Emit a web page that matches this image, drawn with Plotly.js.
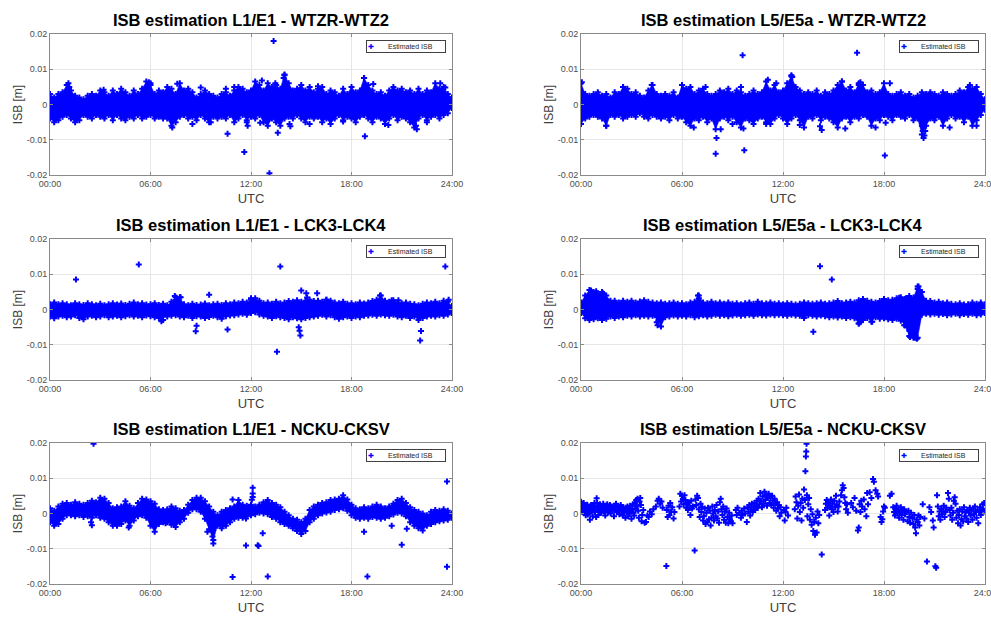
<!DOCTYPE html>
<html><head><meta charset="utf-8">
<script src="https://cdn.plot.ly/plotly-3.0.1.min.js"></script>
<style>html,body{margin:0;padding:0;background:#fff;overflow:hidden}#chart{width:991px;height:617px;}</style>
</head><body><div id="chart"></div>
<script>
// ---------- DATA (ISB values in millimetres, time in hours UTC) ----------
const hours = [0,0.25,0.5,0.75,1,1.25,1.5,1.75,2,2.25,2.5,2.75,3,3.25,3.5,3.75,4,4.25,4.5,4.75,5,5.25,5.5,5.75,6,6.25,6.5,6.75,7,7.25,7.5,7.75,8,8.25,8.5,8.75,9,9.25,9.5,9.75,10,10.25,10.5,10.75,11,11.25,11.5,11.75,12,12.25,12.5,12.75,13,13.25,13.5,13.75,14,14.25,14.5,14.75,15,15.25,15.5,15.75,16,16.25,16.5,16.75,17,17.25,17.5,17.75,18,18.25,18.5,18.75,19,19.25,19.5,19.75,20,20.25,20.5,20.75,21,21.25,21.5,21.75,22,22.25,22.5,22.75,23,23.25,23.5,23.75,24];
const xTickVals = [0,6,12,18,24];
const xTickText = ['00:00','06:00','12:00','18:00','24:00'];
const yTickVals = [-0.02,-0.01,0,0.01,0.02];
const yTickText = ['-0.02','-0.01','0','0.01','0.02'];
const panelTitles = [
  'ISB estimation L1/E1 - WTZR-WTZ2','ISB estimation L5/E5a - WTZR-WTZ2',
  'ISB estimation L1/E1 - LCK3-LCK4','ISB estimation L5/E5a - LCK3-LCK4',
  'ISB estimation L1/E1 - NCKU-CKSV','ISB estimation L5/E5a - NCKU-CKSV'];
const seriesName = 'Estimated ISB';

// Panel 1: L1/E1 WTZR-WTZ2 (upper / lower edge of the dense band, plus isolated points)
const wtzrL1Upper = [3,2,3,3.5, 5.5,4,2.5,2, 1.5,2.5,3,2.5, 4,3.5,2.5,4, 3,4.5,3.5,2.5, 4,3,4.5,6.5, 5.5,3,4,3.5, 5,4.5,3,6, 4,4.5,3.5,2, 3,4,3,2.5, 2,3,3.5,2.5, 4,5,4.5,3.5, 4,6.5,5.5,4, 6,5,5.5,4.5, 8.5,6,4,4.5, 5.5,4,5,3.5, 4.5,5,3,4, 3.5,2.5,4.5,3, 5,3.5,4,7.5, 5.5,4,3,3.5, 2.5,4,5,4, 4.5,3.5,4,3, 4.5,3,4,3.5, 6,4.5,5,3, 2];
const wtzrL1Lower = [-4,-5,-4.5,-3.5, -3,-4,-5,-4.5, -3,-3.5,-4,-3, -3.5,-4,-3,-4.5, -3,-4,-4.5,-3.5, -4,-3,-4,-3.5, -3,-4,-3.5,-4, -4,-6,-5,-3.5, -3,-4,-3.5,-4.5, -3,-4,-5,-3.5, -4,-3.5,-4,-3, -5,-4,-3,-4.5, -3.5,-4,-3,-5, -6,-4,-5,-6, -4,-3.5,-4,-3, -4,-5,-3.5,-4, -3.5,-5,-4,-5.5, -4,-3,-4.5,-3.5, -4,-5,-3.5,-3, -4,-5,-3.5,-4, -5.5,-4,-3,-4.5, -3.5,-4,-5,-6.5, -4,-3,-4.5,-3.5, -3,-4,-3,-2.5, -1];
const wtzrL1Points = [[13.35,18],[13.1,-19.5],[11.6,-13.5],[10.6,-8.3],[13.6,-8],[18.8,-9],[21.9,-7],[7.3,-6.5],[12.65,6.8],[14.0,8.3],[13.95,7.5],[13.45,6],[13.5,4.5],[18.75,7.5],[19.3,5.8],[11.8,-6],[11.75,-5],[12.55,-5.2],[14.3,-5.5],[14.35,-6.2],[17.5,-4.8],[1.1,6],[1.15,5],[5.9,6.3],[6.0,6],[7.6,5.9],[23.3,6],[23.6,4.8],[20.2,-5.8],[21.85,-6],[16.0,5.2],[11.0,5],[10.5,4.5],[9.0,4.8],[3.2,4.2],[8.5,-5.5],[9.6,-5],[15.5,-5.5],[22.5,-5]];

// Panel 2: L5/E5a WTZR-WTZ2
const wtzrL5Upper = [6,3,2.5,3, 3.5,2.5,3,2, 3.5,3,5,4.5, 3,3.5,2.5,2, 4,5.5,3,2.5, 3,2.5,3.5,2, 5.5,4.5,5,3, 4,4.5,3,2.5, 3,4,3.5,4.5, 3,4,3.5,2.5, 3,4,3,3.5, 6.5,4,5.5,3.5, 4,6,8,5, 4,3,3.5,3, 4,2.5,3.5,3, 4,5.5,6.5,4, 5,3.5,6,5.5, 3.5,4,3,3.5, 6,3,2.5,3, 3.5,2.5,3,2, 2.5,3.5,3,3.5, 3,2.5,3.5,3, 2.5,3,4,3.5, 5,4.5,5,3, 1.5];
const wtzrL5Lower = [-5.5,-4,-3.5,-3, -3.5,-4,-6,-3, -3.5,-3,-4,-3.5, -3,-3.5,-2.5,-3.5, -4,-3,-3.5,-4, -3.5,-4.5,-3,-4, -3.5,-5,-6,-4, -4.5,-3.5,-5,-4, -7,-4,-3.5,-4.5, -3.5,-5,-6.5,-4, -4.5,-5.5,-4,-3.5, -5,-5.5,-4,-3, -4,-5.5,-4,-3, -4.5,-6.5,-3.5,-4, -3,-4.5,-3.5,-4, -5,-6.5,-4,-3.5, -5,-3.5,-4,-3, -3.5,-6,-4,-4.5, -3,-3.5,-4.5,-3, -3.5,-4,-3,-4.5, -4,-8.5,-6,-4, -4.5,-3.5,-6,-4, -3,-4,-3.5,-5, -3.5,-6,-4.5,-3, -1.5];
const wtzrL5Points = [[9.6,14],[16.4,14.7],[8.05,-9.5],[8.0,-14],[8.3,-7],[9.7,-13],[18.05,-14.5],[12.5,8.3],[12.55,7.8],[11.1,7],[11.6,6],[1.5,-6],[6.7,-6.5],[14.3,-7.2],[20.35,-9.5],[20.4,-8.8],[20.3,-7.5],[21.9,-6.5],[23.5,-6],[17.5,-6.5],[15.7,-6.8],[18.35,6],[0.05,6.3],[16.6,6.3],[16.5,5.5],[15.5,6.5],[4.2,5.5],[2.5,5],[7.4,5],[9.0,-5.5],[9.65,-6.8],[11.0,-5.5],[13.0,-5.8],[18.1,-5.2],[23.1,5.5],[20.45,-7.5],[20.25,-6],[14.2,-6.2],[9.5,5]];

// Panel 3: L1/E1 LCK3-LCK4
const lckL1Upper = [1.5,2,1.5,1.8, 1.5,1.2,1.8,1.5, 1.3,1.8,1.5,1.2, 1.6,1.2,1.5,1.8, 1.4,1.7,1.3,1.6, 2,1.5,1.8,1.4, 1.5,1.8,1.3,1.6, 1.2,2.2,3.5,3.5, 1.5,1.2,1.6,1.3, 1.4,1.7,1.2,1.5, 1.6,1.3,1.8,1.5, 2,1.8,2.2,2, 2.8,3.2,2.5,1.8, 2,1.6,2.2,1.8, 2,2.4,2.2,2.6, 2.2,2.5,2.8,2.4, 2.5,2.2,2.8,2.5, 2,1.8,2.2,1.6, 1.8,1.5,2,1.7, 2,2.4,2.8,4, 2.5,2.2,2.6,2, 1.8,2,1.6,1.5, 1.2,1.6,2,1.8, 2.2,1.8,2.5,2.2, 1];
const lckL1Lower = [-2,-2.5,-2,-1.8, -2.2,-2,-1.6,-2.4, -2.8,-2,-1.8,-2.2, -2,-1.6,-2.2,-2, -1.8,-2.2,-1.9,-1.6, -2,-1.8,-2.2,-1.7, -1.9,-2.2,-2.4,-2, -2,-1.8,-1.6,-2, -2.2,-1.8,-2.4,-1.9, -2,-2.4,-2.1,-1.8, -2.2,-2.6,-1.9,-1.7, -1.6,-1.4,-1.2,-1.5, -1,-0.8,-1.4,-1.8, -2,-2.4,-1.9,-2.2, -2.4,-2.8,-2.2,-2.5, -2.8,-2.4,-2.2,-2, -1.8,-1.5,-2,-1.6, -2.2,-2.6,-2.2,-2, -2.4,-2,-2.2,-1.8, -1.7,-1.5,-1.8,-1.4, -1.6,-1.8,-1.5,-2, -2.2,-1.8,-2.4,-2, -3,-2.4,-2,-1.8, -2,-1.6,-1.8,-1.4, -1];
const lckL1Points = [[1.55,8.5],[5.3,12.8],[13.75,12.2],[23.6,12.2],[13.55,-12],[7.45,3.8],[7.8,3.5],[7.6,2.8],[9.5,4.2],[8.7,-6.2],[8.75,-4.6],[10.6,-5.7],[14.85,-5],[14.9,-6],[14.95,-7.4],[15.0,5.4],[15.3,4.6],[15.35,3.4],[15.95,4.6],[22.1,-8.8],[22.15,-6.1],[6.65,-3.3],[6.75,-3],[23.8,2.8],[19.7,4],[20.4,2.6],[20.8,2.6],[7.5,2.6],[12.0,3.2],[16.5,2.8]];

// Panel 4: L5/E5a LCK3-LCK4
const lckL5Upper = [2,4,5.5,5, 4.5,5,4,2.5, 2.5,2,2.5,2.2, 2.5,2,2.3,2.6, 2.2,2,1.8,2, 1.6,1.8,2,1.6, 1.8,1.5,2,2.2, 4,2,1.8,2.2, 1.8,2,1.6,2, 1.6,1.8,1.5,1.8, 2,1.6,2.2,1.8, 1.7,2,1.6,1.8, 1.5,1.8,1.6,1.4, 1.6,2,1.8,1.6, 1.8,2,1.6,1.8, 2,2.4,1.8,2, 2.2,2,2.6,3, 2.5,2.2,2,2.4, 3,2.6,2.8,3.2, 3.5,3,3.8,3.4, 6.5,5,2.5,2.4, 2,2.2,1.8,2, 1.6,1.5,1.8,1.4, 1.5,2,1.6,2, 1.5];
const lckL5Lower = [-1,-2.5,-3,-2.8, -2.5,-3,-2.6,-2, -2.4,-2,-2.2,-1.8, -2,-1.6,-2,-1.8, -2,-1.8,-2.2,-4.8, -2.2,-2,-1.7,-2, -1.8,-2,-1.6,-2.2, -1.9,-1.6,-2,-1.8, -1.5,-1.8,-1.6,-1.9, -1.7,-1.5,-1.8,-1.6, -1.5,-1.8,-1.4,-1.6, -1.7,-1.4,-1.6,-1.5, -1.6,-1.8,-1.5,-1.7, -1.8,-2.4,-1.6,-1.8, -2,-1.7,-1.9,-2.2, -2,-2.3,-2,-2.4, -2.2,-2.5,-4,-3, -2.4,-3.5,-2.2,-2.6, -2.5,-2.8,-3,-2.6, -3.2,-4.5,-7.5,-8, -8,-1.5,-1.2,-1.4, -1.2,-1.5,-1.3,-1.6, -1.4,-1.2,-1.6,-1.3, -1.5,-1.2,-1.6,-1.4, -1];
const lckL5Points = [[14.2,12.3],[14.9,8.5],[13.8,-6.3],[4.55,-4.5],[4.5,-3.6],[4.6,-3.2],[6.95,4],[7.0,3.2],[19.55,-7.8],[19.7,-7],[19.85,-8],[19.95,-8.3],[20.05,6.5],[20.1,5.5],[20.15,4.5],[19.4,-5],[19.5,-6],[0.6,5.4],[0.9,5.2],[1.3,4.6],[1.35,3.8],[0.8,4.5],[16.5,-4],[16.6,-3.6],[17.3,-3.5],[19.2,-4.5],[18.9,3.3],[19.3,3.2],[19.6,-4.5],[19.75,-6],[19.9,-5],[20.0,5.8]];

// Panel 5: L1/E1 NCKU-CKSV
const ncklL1Upper = [1.5,0.8,2,2.8, 3,2.5,3.2,2.8, 2.5,3,3.6,3.2, 4.5,4.2,3,1.5, 1.8,2,3.5,2.2, 1.5,3,4.2,4, 3.5,2.8,1.2,1, 1.2,2,1.5,0.8, 1,2.5,3.8,4.5, 4.5,3.5,2,0.5, -0.5,0.5,1,1.5, 2,3.8,2.5,2.2, 2.5,2,2.5,3.2, 3.8,3,2.5,1.8, 0.5,-0.5,-1.5,-1.8, -2.5,-1.5,1,2, 2.5,3,3.2,3.8, 4,4.2,5.2,4, 2.5,1.5,1.2,1.8, 1.5,2,2.5,2, 1.5,2,2.8,3.8, 4.2,3,1.8,1, 0.5,0,-0.5,0.5, 1,0.8,1.2,0.8, 0];
const ncklL1Lower = [-2.5,-3.5,-3,-1.5, -0.5,-0.5,-0.8,-0.5, -1,-0.8,-1.2,-0.5, -1.2,-1.5,-2.5,-3.5, -3.5,-3,-2,-3.5, -2,-0.8,-0.5,-1.2, -3.5,-5.2,-3,-2.5, -2.5,-3.2,-3.8,-2.5, -1.5,0.2,1.2,1.2, 0.5,-1.5,-4.5,-7.5, -3.5,-4.2,-3.5,-2.5, -1.5,-1.2,-1.2,-0.8, -0.5,-0.2,0.2,0, -0.2,-1,-1.5,-2.5, -3,-3.5,-4.2,-5, -5.8,-5,-2.5,-1.5, -0.5,0,0.3,0.5, 1,1.2,1.5,0.8, -0.5,-1.2,-1.5,-1.2, -1.5,-1,-1.2,-1.5, -1.2,-0.8,-0.3,0.2, 0,-0.8,-2.5,-3.5, -4.2,-4.8,-3.5,-3, -2.5,-2.2,-2,-1.8, -1.2];
const ncklL1Points = [[2.6,19.8],[23.7,9.1],[23.7,-15.1],[10.9,-18],[13.0,-17.9],[18.95,-17.9],[11.7,-9.1],[12.4,-9],[12.45,-9.2],[12.7,-5.6],[18.75,-5.2],[20.4,-3.5],[21.0,-8.9],[21.3,-4.3],[11.7,-1.4],[9.4,-5.2],[2.5,-3.3],[2.45,-2.5],[12.1,7.3],[12.1,5.7],[12.1,4.7],[12.05,3.9],[10.9,4],[9.75,-8.5],[9.7,-6.5],[4.7,-4],[6.9,-2.8]];

// Panel 6: L5/E5a NCKU-CKSV (sparse, every point listed)
const ncklL5Points = [[0,3.3],[0.02,1],[0.05,2],[0.08,0.4],[0.1,2.8],[0.13,1.5],[0.16,3],[0.19,0.2],[0.22,1.2],[0.25,2.2],
[0.28,-0.5],[0.31,1.8],[0.34,0.8],[0.37,2.5],[0.4,-0.3],[0.43,1.2],[0.46,0],[0.5,2],[0.53,-1.8],[0.56,1],
[0.6,2.4],[0.63,0.6],[0.66,1.6],[0.7,-0.8],[0.73,2.2],[0.76,1],[0.8,3],[0.83,0.4],[0.86,1.8],[0.9,-1],
[0.93,4.3],[0.96,3],[1,1.2],[1.03,-0.4],[1.06,2],[1.1,0.8],[1.13,2.6],[1.17,1.4],[1.2,0.2],[1.24,2],
[1.28,1],[1.32,2.8],[1.36,0.6],[1.4,1.6],[1.44,-0.6],[1.48,2.2],[1.52,1.2],[1.56,2.6],[1.6,0.3],[1.64,1.8],
[1.68,1],[1.72,2.4],[1.76,0],[1.8,1.4],[1.84,2],[1.88,0.8],[1.92,1.6],[1.96,-0.8],[2,2.2],[2.04,1],
[2.08,2.8],[2.12,0.4],[2.16,1.6],[2.2,0.8],[2.24,2],[2.28,-0.2],[2.32,1.4],[2.36,2.4],[2.4,0.6],[2.44,1.2],
[2.48,-0.6],[2.52,1.8],[2.56,0.2],[2.6,1],[2.64,-1.2],[2.68,1.6],[2.72,0.4],[2.76,2],[2.8,-0.8],[2.84,1],
[2.88,0],[2.92,2.2],[2.96,0.6],[3,-1.5],[3.04,1.4],[3.08,2.6],[3.12,0.2],[3.16,-0.6],[3.2,3],[3.24,1.2],
[3.28,3.8],[3.32,2],[3.36,4.2],[3.4,0.8],[3.44,-1.2],[3.48,3.4],[3.52,4.4],[3.56,2.4],[3.6,-2.2],[3.64,-0.4],
[3.7,1],[3.78,-2.6],[3.86,-2.4],[3.94,-0.6],[4.02,-1],[4.1,0.6],[4.2,-0.2],[4.3,1.2],[4.45,2],[4.55,3.6],
[4.62,4.2],[4.7,2.8],[4.78,3.4],[4.85,1.6],
[5.07,-14.9],[5.1,1],[5.15,-1],[5.2,2.2],[5.25,-0.4],[5.3,3],[5.35,0.6],[5.42,1.8],[5.5,-1.4],[5.55,0.4],
[5.85,2],[5.9,5.6],[5.95,3.4],[6,5],[6.05,4.2],[6.1,2.6],[6.15,5.2],[6.2,3.8],[6.25,1.6],[6.3,2.8],
[6.35,1],[6.4,3.2],[6.45,2.2],[6.5,-0.4],[6.55,3.6],[6.6,1.4],[6.65,2],[6.75,-10.5],[6.8,4],[6.85,2.4],
[6.9,5],[6.95,4.4],[7,1.2],[7.05,-1],[7.1,2.8],[7.15,0.4],[7.2,1.8],[7.25,-2],[7.3,-0.8],[7.35,1.4],
[7.4,-3],[7.45,0.2],[7.5,-2.4],[7.55,1.6],[7.6,-1.6],[7.65,0.8],[7.7,-3.4],[7.75,-1.2],[7.8,2],[7.85,0],
[7.9,-2],[7.95,1],[8,-0.8],[8.05,2.4],[8.1,-1.4],[8.15,0.6],[8.2,-2.6],[8.25,3.2],[8.3,4.2],[8.35,1.2],
[8.4,-0.4],[8.45,2],[8.5,-1.8],[8.55,0.6],[8.6,-2.6],[8.65,1.4],[8.7,-1],[8.75,-2.8],[8.8,0.2],[8.85,-1.6],
[8.9,-2.2],[8.95,-0.6],[9,-2.8],
[9.2,1],[9.25,-0.4],[9.3,1.6],[9.4,0.2],[9.5,-1.2],[9.55,0.8],[9.6,-0.4],[9.7,1.4],[9.75,0],[9.85,-2.4],
[9.9,1.8],[9.95,0.6],[10,2.4],[10.05,-0.6],[10.1,1.2],[10.15,2.8],[10.2,0.4],[10.25,1.8],[10.3,3],[10.35,1],
[10.4,2.2],[10.45,3.6],[10.5,1.6],[10.55,4.2],[10.6,2.6],[10.65,5.8],[10.7,3.4],[10.75,1.8],[10.8,4.8],[10.85,2.8],
[10.9,6.2],[10.95,3.8],[11,5.2],[11.05,2.2],[11.1,4.4],[11.15,5.6],[11.2,3],[11.25,4.6],[11.3,2.4],[11.35,5],
[11.4,3.6],[11.45,1.6],[11.5,4.2],[11.55,2.8],[11.6,0.8],[11.65,3.2],[11.7,1.4],[11.75,2.4],[11.8,-0.8],[11.85,1.8],
[11.9,0.2],[12.05,1],[12.1,-2],[12.15,0.4],[12.2,1.6],[12.3,-0.6],
[12.7,1.2],[12.75,4.8],[12.8,3.2],[12.85,-1.4],[12.9,2.2],[12.95,5.4],[13,0.4],[13.05,3],[13.1,-2],[13.15,4.2],
[13.2,1.6],[13.25,6.8],[13.3,3.8],[13.33,12],[13.36,16.2],[13.38,17.6],[13.4,19.8],[13.42,5.2],[13.45,-0.8],[13.5,2.6],
[13.55,4.4],[13.6,-1.8],[13.65,1.2],[13.7,-3.2],[13.75,-0.2],[13.8,-5],[13.85,-2.4],[13.9,-6],[13.95,-1.2],[14,-5.4],
[14.05,0.6],[14.1,-2.8],[14.15,-0.4],[14.3,-11.6],
[14.5,1],[14.55,2.8],[14.6,3.8],[14.65,1.6],[14.7,3.2],[14.75,-0.6],[14.8,2.2],[14.85,4],[14.9,1.2],[14.95,2.8],
[15,0.4],[15.05,3.6],[15.1,1.8],[15.15,5],[15.2,2.4],[15.25,0.6],[15.3,2],[15.35,3.4],[15.45,5.2],[15.5,6.6],
[15.55,8],[15.6,7.2],[15.65,4.6],[15.7,3],[15.75,1.2],[15.8,2.6],[15.85,0.2],
[16.05,3],[16.15,1.8],[16.25,4.4],[16.35,0.8],[16.45,-4.8],[16.5,-4],[16.55,2.6],[16.6,0.4],[16.65,3.6],[16.7,2],
[16.8,4],[16.85,1.2],[16.95,-0.8],[17,5.8],[17.05,2.6],[17.15,6],[17.25,4.4],[17.35,9.8],[17.4,9],[17.5,6.6],
[17.6,5.6],[17.65,4.8],[17.8,-1],[17.85,-2.4],[17.9,-1.6],[17.95,0.6],[18,2],[18.05,1.6],
[18.35,5],[18.45,5.6],[18.55,1.8],[18.6,0.4],[18.65,-0.6],[18.7,1.4],[18.75,2.2],[18.8,0],[18.85,1],[18.9,-1.2],
[18.95,0.6],[19,1.8],[19.05,-0.4],[19.1,0.8],[19.15,-1.8],[19.2,1.2],[19.25,-0.2],[19.3,0.4],[19.4,-2.2],[19.45,0.8],
[19.5,-1],[19.55,-2.6],[19.6,0.2],[19.7,-1.4],[19.75,-3],[19.8,-0.4],[19.85,-4],[19.9,-5.6],[19.95,-1.8],[20,-2.4],
[20.05,-0.6],[20.1,-3.4],[20.15,-1],[20.3,2.6],[20.4,-1.4],[20.55,-13.6],[20.7,1.8],[20.8,0.4],[20.9,-2],[20.95,-4],
[21.05,-15],[21.1,-15.4],[21.15,5.2],[21.2,2],[21.25,-0.8],[21.3,0.6],[21.35,-1.8],[21.4,1.4],[21.45,-0.2],[21.5,0.8],
[21.55,2.2],[21.6,-1],[21.65,0.4],[21.7,1.6],[21.8,5.8],[21.85,4.2],[21.9,1],[21.95,-0.6],[22,1.6],[22.05,-1.8],
[22.1,0.2],[22.15,3.6],[22.2,4.6],[22.25,2.8],[22.3,-1.2],[22.35,0.8],[22.4,-2.8],[22.45,-0.4],[22.5,1.2],[22.55,-3.4],
[22.6,-1.6],[22.65,0.6],[22.7,-2.2],[22.75,1.8],[22.8,-0.8],[22.85,0.4],[22.9,-1.4],[22.95,1],[23,-2.4],[23.05,0.2],
[23.1,1.6],[23.15,-0.6],[23.2,0.8],[23.25,-1.8],[23.3,1.4],[23.35,-0.2],[23.4,2],[23.45,0.4],[23.5,-1.2],[23.55,1],
[23.6,-2.8],[23.65,0.6],[23.7,1.8],[23.75,-0.4],[23.8,0.8],[23.85,2.6],[23.9,1.2],[23.95,3],[24,0.6]];

// ---------- BUILD ----------
const W = 991, H = 617;
const BLUE = '#0000ff';
const FONT = 'Liberation Sans, Arial, Helvetica, sans-serif';
const mm = v => v / 1000;
// plot rectangles in pixels: [left, right, top, bottom]
const rects = [[50,452,34,175],[581,985,34,175],[50,452,239,380],[581,985,239,380],[50,452,443,584],[581,985,443,584]];
const bands = [
  {up: wtzrL1Upper, lo: wtzrL1Lower, pts: wtzrL1Points},
  {up: wtzrL5Upper, lo: wtzrL5Lower, pts: wtzrL5Points},
  {up: lckL1Upper, lo: lckL1Lower, pts: lckL1Points},
  {up: lckL5Upper, lo: lckL5Lower, pts: lckL5Points},
  {up: ncklL1Upper, lo: ncklL1Lower, pts: ncklL1Points},
  {up: null, lo: null, pts: ncklL5Points}
];
const traces = [];
const layout = {
  width: W, height: H, margin: {l:0,r:0,t:0,b:0},
  paper_bgcolor: '#ffffff', plot_bgcolor: '#ffffff',
  font: {family: FONT, color: '#262626'},
  showlegend: false, annotations: []
};
const marker = {symbol: 'cross', size: 5, color: BLUE, line: {width: 0}};
bands.forEach((b, i) => {
  const n = i + 1;
  const xa = n === 1 ? 'x' : 'x' + n, ya = n === 1 ? 'y' : 'y' + n;
  if (b.up) {
    traces.push({type:'scatter', x: hours, y: b.lo.map(mm), xaxis: xa, yaxis: ya, mode:'lines+markers',
      line:{color:BLUE, width:0.5}, marker: marker, hoverinfo:'skip'});
    traces.push({type:'scatter', x: hours, y: b.up.map(mm), xaxis: xa, yaxis: ya, mode:'lines+markers',
      fill:'tonexty', fillcolor: BLUE, line:{color:BLUE, width:0.5}, marker: marker, hoverinfo:'skip'});
  }
  traces.push({type:'scatter', name: seriesName, x: b.pts.map(p => p[0]), y: b.pts.map(p => mm(p[1])),
    xaxis: xa, yaxis: ya, mode:'markers', marker: marker, hoverinfo:'skip'});
  const r = rects[i];
  const axBase = {showline:true, mirror:'ticks', linecolor:'#8a8a8a', linewidth:1, ticks:'inside', ticklen:3,
    tickcolor:'#8a8a8a', showgrid:true, gridcolor:'#e6e6e6', gridwidth:1, zeroline:false, ticklabeloverflow:'allow',
    tickfont:{size:9, color:'#4d4d4d', family:FONT}, fixedrange:true};
  layout[n === 1 ? 'xaxis' : 'xaxis' + n] = Object.assign({}, axBase, {
    anchor: ya, domain: [r[0]/W, r[1]/W], range: [0, 24], tickmode:'array', tickvals: xTickVals, ticktext: xTickText,
    title: {text:'UTC', font:{size:13, color:'#404040', family:FONT}, standoff: 6}});
  layout[n === 1 ? 'yaxis' : 'yaxis' + n] = Object.assign({}, axBase, {
    anchor: xa, domain: [1 - r[3]/H, 1 - r[2]/H], range: [-0.02, 0.02], tickmode:'array', tickvals: yTickVals, ticktext: yTickText,
    title: {text:'ISB [m]', font:{size:12, color:'#404040', family:FONT}, standoff: 1}});
  // legend box drawn as a bordered text annotation
  layout.annotations.push({text:'<span style="color:#0000ff">✚</span>\u2003\u2003Estimated ISB',
    x: (r[1]-6)/W, y: 1 - (r[2]+6)/H, xref:'paper', yref:'paper', xanchor:'right', yanchor:'top',
    showarrow:false, align:'left', bgcolor:'#ffffff', bordercolor:'#404040', borderwidth:1, borderpad:1,
    width: 76, height: 9, font:{size:7, color:'#262626', family:FONT}});
  layout.annotations.push({text:'<b>' + panelTitles[i] + '</b>', x: (r[0]+r[1])/2/W, y: 1 - (r[2]-14)/H,
    xref:'paper', yref:'paper', xanchor:'center', yanchor:'middle', showarrow:false,
    font:{size:16.5, color:'#000000', family:FONT}});
});
Plotly.newPlot('chart', traces, layout, {staticPlot:true, displayModeBar:false});
</script></body></html>
